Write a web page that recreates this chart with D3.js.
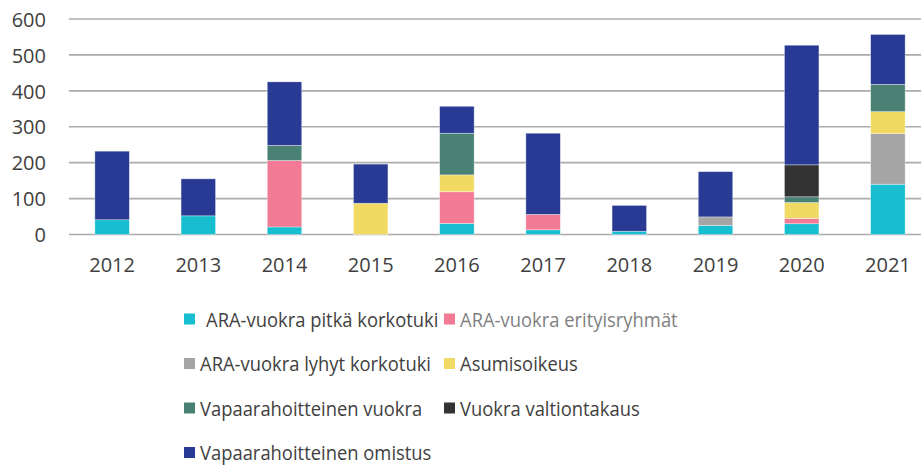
<!DOCTYPE html>
<html>
<head>
<meta charset="utf-8">
<script src="https://cdn.jsdelivr.net/npm/d3@7"></script>
<style>
  body { margin: 0; background: #fff; }
  svg { display: block; font-family: "Open Sans", sans-serif; }
</style>
</head>
<body>
<div id="container"></div>
<script>
let w = 921;
let h = 466;

// DATA
let years = ["2012","2013","2014","2015","2016","2017","2018","2019","2020","2021"];
let seriesNames = [
  "ARA-vuokra pitkä korkotuki",
  "ARA-vuokra erityisryhmät",
  "ARA-vuokra lyhyt korkotuki",
  "Asumisoikeus",
  "Vapaarahoitteinen vuokra",
  "Vuokra valtiontakaus",
  "Vapaarahoitteinen omistus"
];
let araPitka     = [41, 52, 21, 0, 31, 13, 9, 25, 30, 140];
let araErityis   = [0, 0, 185, 0, 88, 43, 0, 0, 15, 0];
let araLyhyt     = [0, 0, 0, 0, 0, 0, 0, 24, 0, 141];
let asumisoikeus = [0, 0, 0, 87, 47, 0, 0, 0, 44, 61];
let vapaaVuokra  = [0, 0, 42, 0, 116, 0, 0, 0, 16, 76];
let valtiontakaus= [0, 0, 0, 0, 0, 0, 0, 0, 89, 0];
let vapaaOmistus = [191, 103, 177, 109, 75, 226, 72, 126, 333, 139];
let yTicks = [0, 100, 200, 300, 400, 500, 600];

let colors = ["#17BECF", "#F27A94", "#A5A5A5", "#F0DA64", "#4A8175", "#333333", "#283A93"];

let allSeries = [araPitka, araErityis, araLyhyt, asumisoikeus, vapaaVuokra, valtiontakaus, vapaaOmistus];

// table for the stack
let table = years.map(function(y, i){
  let row = {year: y};
  seriesNames.forEach(function(n, j){ row[n] = allSeries[j][i]; });
  return row;
});

let viz = d3.select("#container").append("svg")
    .attr("width", w)
    .attr("height", h)
;

let xScale = d3.scaleBand().domain(years).range([69, 931]).paddingInner(0.6).paddingOuter(0.3);
let yScale = d3.scaleLinear().domain([0, 600]).range([234.5, 19]);

// gridlines
viz.append("g").selectAll("line").data(yTicks).enter()
  .append("line")
    .attr("x1", 69)
    .attr("x2", 921)
    .attr("y1", d => yScale(d))
    .attr("y2", d => yScale(d))
    .attr("stroke", "#ababab")
    .attr("stroke-width", 1.6)
;

// y labels
let yAxis = d3.axisLeft(yScale).tickValues(yTicks).tickSize(0).tickPadding(0);
let yG = viz.append("g").attr("transform", "translate(46,0)").call(yAxis);
yG.select(".domain").remove();
yG.selectAll("text")
  .attr("font-family", "Open Sans")
  .attr("font-size", 20)
  .attr("fill", "#404040")
  .attr("dy", "0.36em");

// x labels
let xAxis = d3.axisBottom(xScale).tickSize(0).tickPadding(0);
let xG = viz.append("g").attr("transform", "translate(0,254)").call(xAxis);
xG.select(".domain").remove();
xG.selectAll("text")
  .attr("font-family", "Open Sans")
  .attr("font-size", 20)
  .attr("fill", "#404040")
  .attr("dy", "0.9em");

// bars
let stack = d3.stack().keys(seriesNames);
let stacked = stack(table);

viz.selectAll(".series").data(stacked).enter()
  .append("g")
    .attr("class", "series")
    .attr("fill", (d, i) => colors[i])
  .selectAll("rect").data(d => d.filter(p => p[1] - p[0] > 0)).enter()
  .append("rect")
    .attr("x", d => xScale(d.data.year))
    .attr("width", xScale.bandwidth())
    .attr("y", d => yScale(d[1]))
    .attr("height", d => yScale(d[0]) - yScale(d[1]))
    .attr("stroke", "rgba(255,255,255,0.5)")
    .attr("stroke-width", 0.7)
;

// legend
let legendPos = [
  {x: 184, y: 319.5, tx: 206, color: "#404040"},
  {x: 444, y: 319.5, tx: 460, color: "#7f7f7f"},
  {x: 184, y: 364, tx: 200, color: "#404040"},
  {x: 444, y: 364, tx: 460, color: "#404040"},
  {x: 184, y: 408.5, tx: 200, color: "#404040"},
  {x: 444, y: 408.5, tx: 460, color: "#404040"},
  {x: 184, y: 453, tx: 200, color: "#404040"}
];

let legend = viz.append("g").selectAll("g").data(seriesNames).enter().append("g");
legend.append("rect")
  .attr("x", (d, i) => legendPos[i].x)
  .attr("y", (d, i) => legendPos[i].y - 6)
  .attr("width", 11)
  .attr("height", 11)
  .attr("fill", (d, i) => colors[i]);
// narrower look like the original font
legend.append("text")
  .attr("transform", (d, i) => "translate(" + legendPos[i].tx + "," + legendPos[i].y + ") scale(0.92,1)")
  .attr("dy", "0.36em")
  .attr("font-size", 20)
  .attr("fill", (d, i) => legendPos[i].color)
  .text(d => d);
</script>
</body>
</html>
